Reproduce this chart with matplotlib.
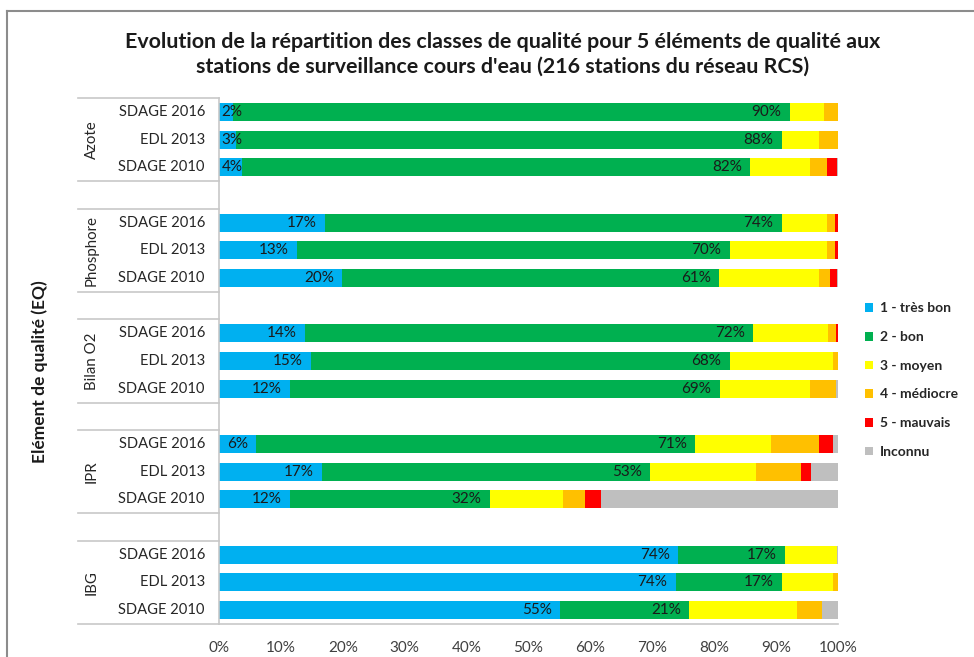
import matplotlib
matplotlib.use("Agg")
import matplotlib.pyplot as plt
from matplotlib.lines import Line2D
from matplotlib.patches import Patch
import matplotlib.transforms as mtransforms

plt.rcParams['font.family'] = ['Lato', 'DejaVu Sans']

groups = ["Azote", "Phosphore", "Bilan O2", "IPR", "IBG"]
periods = ["SDAGE 2016", "EDL 2013", "SDAGE 2010"]
classes = ["1 - très bon", "2 - bon", "3 - moyen", "4 - médiocre", "5 - mauvais", "Inconnu"]
colors = ["#00B0F0", "#00B050", "#FFFF00", "#FFC000", "#FF0000", "#BFBFBF"]

tres_bon = [[2.2, 2.8, 3.7], [17.1, 12.6, 19.9], [13.9, 14.8, 11.5], [6.0, 16.6, 11.5], [74.2, 73.8, 55.1]]
bon      = [[90.0, 88.1, 82.1], [73.8, 69.9, 60.9], [72.4, 67.7, 69.4], [70.9, 53.0, 32.2], [17.2, 17.1, 20.9]]
moyen    = [[5.6, 6.1, 9.7], [7.4, 15.8, 16.2], [12.1, 16.7, 14.6], [12.2, 17.1, 11.9], [8.4, 8.3, 17.3]]
mediocre = [[2.2, 3.0, 2.8], [1.2, 1.2, 1.7], [1.3, 0.8, 4.2], [7.9, 7.4, 3.6], [0.0, 0.8, 4.1]]
mauvais  = [[0.0, 0.0, 1.5], [0.5, 0.5, 1.1], [0.3, 0.0, 0.0], [2.2, 1.5, 2.5], [0.0, 0.0, 0.0]]
inconnu  = [[0.0, 0.0, 0.2], [0.0, 0.0, 0.2], [0.0, 0.0, 0.3], [0.8, 4.4, 38.3], [0.2, 0.0, 2.6]]
series = [tres_bon, bon, moyen, mediocre, mauvais, inconnu]

x_ticks = [0, 10, 20, 30, 40, 50, 60, 70, 80, 90, 100]

W, H = 974, 657
fig = plt.figure(figsize=(W / 100, H / 100), dpi=100)
ax = fig.add_axes([219 / W, 1 - 624 / H, 619 / W, 526 / H])

bar_h = 0.65
for g in range(len(groups)):
    for j in range(len(periods)):
        y = 4 * g + j
        left = 0.0
        for s in range(len(series)):
            v = series[s][g][j]
            if v > 0:
                ax.barh(y, v, left=left, height=bar_h, color=colors[s], edgecolor='none')
            if s < 2:
                lab = f"{v:.0f}%"
                if v < 5:
                    ax.annotate(lab, (left, y), xytext=(2, 0), textcoords='offset points',
                                ha='left', va='center', fontsize=11, color='#1a1a1a')
                else:
                    ax.annotate(lab, (left + v, y), xytext=(-6, 0), textcoords='offset points',
                                ha='right', va='center', fontsize=11, color='#1a1a1a')
            left += v

ax.set_xlim(0, 100)
ax.set_ylim(18.5, -0.5)
ax.set_xticks(x_ticks)
ax.set_xticklabels([f"{t}%" for t in x_ticks])
ax.tick_params(axis='x', length=0, pad=12, labelsize=11, labelcolor='#404040')
ax.set_yticks([])
for sp in ['top', 'right']:
    ax.spines[sp].set_visible(False)
ax.spines['left'].set_color('#C8C8C8')
ax.spines['bottom'].set_color('#C8C8C8')
ax.spines['left'].set_linewidth(1.2)
ax.spines['bottom'].set_linewidth(1.2)

# multi-level category axis
trans = mtransforms.blended_transform_factory(fig.transFigure, ax.transData)
for g, name in enumerate(groups):
    for j, p in enumerate(periods):
        ax.text(205 / W, 4 * g + j, p, transform=trans, ha='right', va='center',
                fontsize=10.6, color='#262626')
    ax.text(92 / W, 4 * g + 1, name, transform=trans, ha='center', va='center',
            rotation=90, fontsize=10.8, color='#262626')
    for yb in (4 * g - 0.5, 4 * g + 2.5):
        ax.add_line(Line2D([78 / W, 219 / W], [yb, yb], transform=trans,
                           color='#C8C8C8', lw=1.2, clip_on=False))

fig.text(40 / W, 1 - 372 / H, "Elément de qualité (EQ)", rotation=90, ha='center',
         va='center', fontsize=12.5, fontweight='bold', color='#1a1a1a')

fig.text(503 / W, 1 - 54 / H,
         "Evolution de la répartition des classes de qualité pour 5 éléments de qualité aux\n"
         "stations de surveillance cours d'eau (216 stations du réseau RCS)",
         ha='center', va='center', fontsize=15.4, fontweight='bold', color='#1a1a1a',
         linespacing=1.3)

# legend
handles = [Patch(facecolor=c, edgecolor='none') for c in colors]
leg = fig.legend(handles, classes, loc='upper left', bbox_to_anchor=(852 / W, 1 - 290 / H),
                 frameon=False, handlelength=0.6, handleheight=0.6, handletextpad=0.5,
                 labelspacing=1.2, prop={'weight': 'bold', 'size': 10})
for t in leg.get_texts():
    t.set_color('#262626')

# outer frame
fig.add_artist(Line2D([7 / W, 7 / W], [0, 1 - 11 / H], transform=fig.transFigure,
                      color='#8C8C8C', lw=1.5))
fig.add_artist(Line2D([7 / W, 1], [1 - 11 / H, 1 - 11 / H], transform=fig.transFigure,
                      color='#8C8C8C', lw=1.5))

fig.savefig("out.png", dpi=100)
